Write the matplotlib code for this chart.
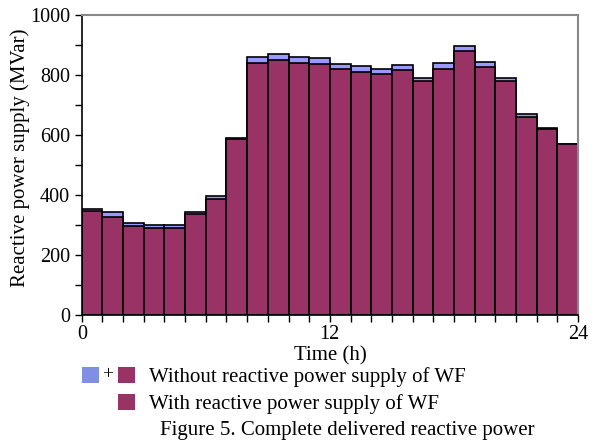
import matplotlib
matplotlib.use("Agg")
import matplotlib.pyplot as plt
from matplotlib.patches import Rectangle
import numpy as np

hours = np.arange(24)
with_wf = [346, 326, 296, 290, 290, 336, 386, 587, 840, 850, 840, 836,
           822, 812, 803, 817, 780, 821, 879, 827, 780, 662, 621, 569]
without_wf = [355, 345, 308, 299, 299, 343, 398, 589, 860, 870, 860, 856,
              838, 830, 821, 833, 791, 840, 898, 843, 791, 670, 624, 570]

blue = '#9999ff'
maroon = '#993366'

plt.rcParams['font.family'] = ['Liberation Serif', 'DejaVu Serif']

fig = plt.figure(figsize=(5.97, 4.47), dpi=100)
ax = fig.add_axes([0.137, 0.295, 0.831, 0.671])

ax.bar(hours, without_wf, width=1.0, align='edge', color=blue,
       edgecolor='black', linewidth=1.2)
ax.bar(hours, with_wf, width=1.0, align='edge', color=maroon,
       edgecolor='black', linewidth=1.2)

ax.set_xlim(0, 24)
ax.set_ylim(0, 1000)
ax.set_xticks([0, 12, 24])
ax.set_xticks(np.arange(0, 25, 1), minor=True)
ax.set_yticks(np.arange(0, 1001, 200))
ax.set_yticks(np.arange(0, 1001, 100), minor=True)
ax.tick_params(which='both', direction='out', labelsize=14.5, width=1, length=5)
ax.tick_params(axis='x', pad=2)
for s in ['top', 'right']:
    ax.spines[s].set_color('#888888')
    ax.spines[s].set_linewidth(1.5)
for s in ['left', 'bottom']:
    ax.spines[s].set_linewidth(1.2)

fig.text(20 / 597, 1 - 158 / 447, 'Reactive power supply (MVar)', rotation=90,
         ha='center', va='center', fontsize=15)
fig.text(330 / 597, 1 - 356 / 447, 'Time (h)', ha='center', va='center', fontsize=15)

# legend drawn by hand
def square(x, y, c):
    fig.add_artist(Rectangle((x / 597, 1 - y / 447), 17 / 597, 16 / 447,
                             transform=fig.transFigure, facecolor=c,
                             edgecolor='none'))

square(82, 383, '#7f8fe6')
square(118, 383, maroon)
square(118, 410, maroon)
fig.text(108 / 597, 1 - 375 / 447, '+', ha='center', va='center', fontsize=14)
fig.text(149 / 597, 1 - 377 / 447, 'Without reactive power supply of WF',
         ha='left', va='center', fontsize=15)
fig.text(149 / 597, 1 - 404 / 447, 'With reactive power supply of WF',
         ha='left', va='center', fontsize=15)
fig.text(160 / 597, 1 - 431 / 447, 'Figure 5. Complete delivered reactive power',
         ha='left', va='center', fontsize=15)

fig.savefig('out.png', dpi=100)
